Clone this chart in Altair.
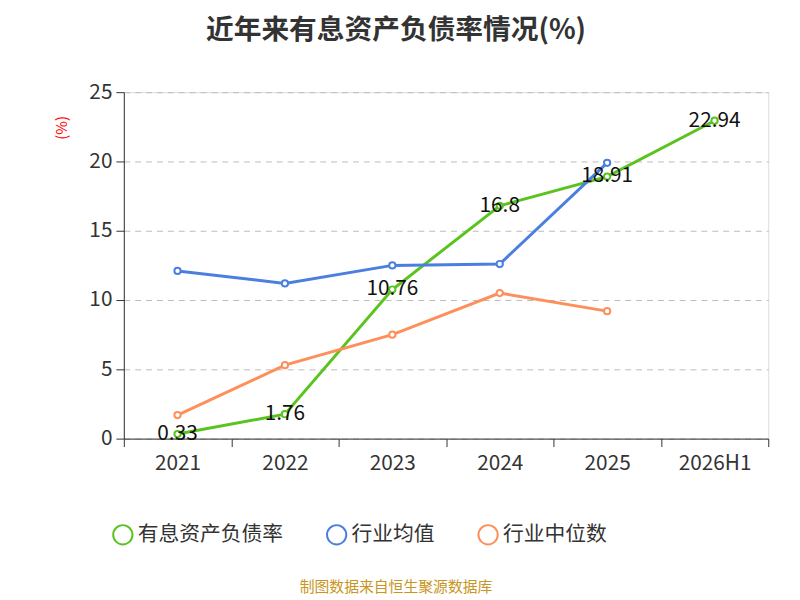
import altair as alt
import pandas as pd

years = ["2021", "2022", "2023", "2024", "2025", "2026H1"]
s_names = ["有息资产负债率", "行业均值", "行业中位数"]
green = [0.33, 1.76, 10.76, 16.8, 18.91, 22.94]
blue = [12.1, 11.2, 12.5, 12.6, 19.9, None]
orange = [1.7, 5.3, 7.5, 10.5, 9.2, None]

rows = []
for name, vals in zip(s_names, [green, blue, orange]):
    for y, v in zip(years, vals):
        if v is not None:
            rows.append({"year": y, "series": name, "value": v})
df = pd.DataFrame(rows)
lab = df[df.series == s_names[0]].copy()
lab["label"] = [f"{v:g}" for v in green]

colors = ["#5ac31e", "#4a7fe0", "#ff8f5a"]
x = alt.X("year:N", sort=years, title=None,
          scale=alt.Scale(type="band", paddingInner=0, paddingOuter=0),
          axis=alt.Axis(labelAngle=0, labelFontSize=21, labelColor="#333", tickBand="extent",
                        domainColor="#333", tickColor="#333", tickSize=8, labelPadding=6))
y = alt.Y("value:Q", title=None, scale=alt.Scale(domain=[0, 25]),
          axis=alt.Axis(values=[0, 5, 10, 15, 20, 25], labelFontSize=21, labelColor="#333",
                        grid=True, gridDash=[6, 5], gridColor="#bbb", domainColor="#333",
                        tickColor="#333", tickSize=8, labelPadding=4))
color = alt.Color("series:N", sort=s_names, scale=alt.Scale(domain=s_names, range=colors),
                  legend=alt.Legend(title=None, orient="none", legendX=-12, legendY=436,
                                    direction="horizontal", labelFontSize=21, labelColor="#333",
                                    symbolType="circle", symbolSize=380, symbolFillColor="white",
                                    symbolStrokeWidth=2, columnPadding=40, labelLimit=300))
base = alt.Chart(df)
lines = base.mark_line(strokeWidth=3).encode(x=x, y=y, color=color)
pts = base.mark_point(filled=True, fill="white", size=40, strokeWidth=2, opacity=1).encode(
    x=x, y=y, stroke=alt.Stroke("series:N", scale=alt.Scale(domain=s_names, range=colors), legend=None))
texts = alt.Chart(lab).mark_text(fontSize=21, color="#111").encode(x=x, y=y, text="label:N")

title = alt.Chart(pd.DataFrame({"t": ["近年来有息资产负债率情况(%)"]})).mark_text(
    fontSize=28, fontWeight="bold", color="#333").encode(x=alt.value(275), y=alt.value(-62), text="t:N")
unit = alt.Chart(pd.DataFrame({"t": ["(%)"]})).mark_text(
    fontSize=15, color="red", angle=270).encode(x=alt.value(-62), y=alt.value(36), text="t:N")
foot = alt.Chart(pd.DataFrame({"t": ["制图数据来自恒生聚源数据库"]})).mark_text(
    fontSize=15, color="#c8961e").encode(x=alt.value(275), y=alt.value(500), text="t:N")

chart = alt.layer(lines, pts, texts, title, unit, foot).properties(
    width=651, height=350, autosize="none",
    padding={"left": 117, "top": 82, "right": 24, "bottom": 160}
).configure_view(stroke=None).configure(font="Noto Sans CJK SC")

chart.save("out.html", embed_options={"renderer": "svg", "actions": False})
